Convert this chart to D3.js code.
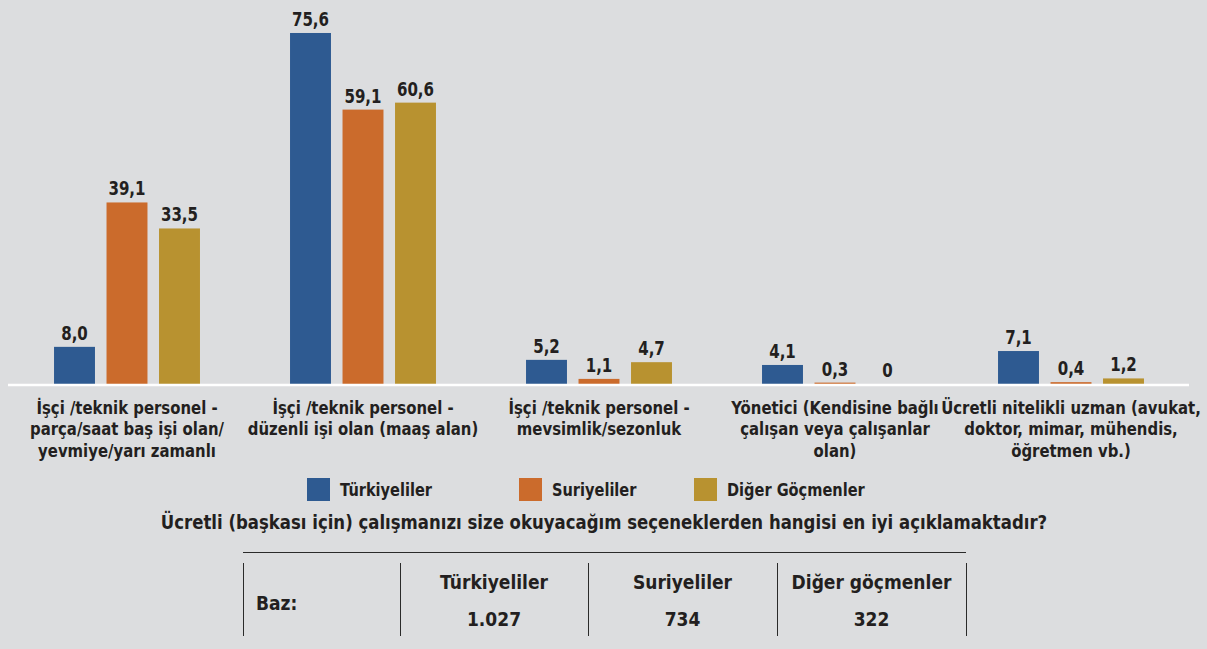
<!DOCTYPE html>
<html>
<head>
<meta charset="utf-8">
<script src="https://cdn.jsdelivr.net/npm/d3@7"></script>
<style>
  body { margin: 0; background: #dcdddf; }
  text { font-family: 'Liberation Sans Narrow', 'DejaVu Sans Condensed', sans-serif; font-weight: bold; fill: #231f20; }
</style>
</head>
<body>
<div id="chart"></div>
<script>
var categories = [
  ['İşçi /teknik personel -', 'parça/saat baş işi olan/', 'yevmiye/yarı zamanlı'],
  ['İşçi /teknik personel -', 'düzenli işi olan (maaş alan)'],
  ['İşçi /teknik personel -', 'mevsimlik/sezonluk'],
  ['Yönetici (Kendisine bağlı', 'çalışan veya çalışanlar', 'olan)'],
  ['Ücretli nitelikli uzman (avukat,', 'doktor, mimar, mühendis,', 'öğretmen vb.)']
]
var series = ['Türkiyeliler', 'Suriyeliler', 'Diğer Göçmenler']
var turkiyeliler = [8.0, 75.6, 5.2, 4.1, 7.1]
var suriyeliler = [39.1, 59.1, 1.1, 0.3, 0.4]
var digerGocmenler = [33.5, 60.6, 4.7, 0, 1.2]
var question = 'Ücretli (başkası için) çalışmanızı size okuyacağım seçeneklerden hangisi en iyi açıklamaktadır?'
var baseLabel = 'Baz:'
var baseGroups = ['Türkiyeliler', 'Suriyeliler', 'Diğer göçmenler']
var baseCounts = ['1.027', '734', '322']

var colors = ['#2e5a91', '#cb6b2c', '#b89230']
var values = [turkiyeliler, suriyeliler, digerGocmenler]

var width = 1207
var height = 649

var svg = d3
  .select('#chart')
  .append('svg')
  .attr('width', width)
  .attr('height', height)

// squeeze text horizontally to mimic the condensed face
function narrow(sel, x, sx) {
  sel.attr('transform', 'scale(' + sx + ',1)').attr('x', function(d, i) {
    return (typeof x === 'function' ? x(d, i) : x) / sx
  })
}

var xGroup = d3.scaleBand().domain(d3.range(categories.length)).range([9, 1189])
var xBar = d3
  .scaleBand()
  .domain(d3.range(series.length))
  .range([-78.75, 78.75])
  .paddingInner(0.22)
  .paddingOuter(0.11)
var y = d3.scaleLinear().domain([0, 80]).range([384, 384 - 80 * 4.643])

var fmt = function(v) {
  return v === 0 ? '0' : d3.format('.1f')(v).replace('.', ',')
}

var groups = svg
  .selectAll('.group')
  .data(categories)
  .enter()
  .append('g')
  .attr('class', 'group')
  .attr('transform', function(d, i) {
    return 'translate(' + (xGroup(i) + xGroup.bandwidth() / 2) + ',0)'
  })

series.forEach(function(s, si) {
  groups
    .append('rect')
    .attr('x', xBar(si))
    .attr('width', xBar.bandwidth())
    .attr('y', function(d, i) {
      return y(values[si][i])
    })
    .attr('height', function(d, i) {
      return y(0) - y(values[si][i])
    })
    .attr('fill', colors[si])

  groups
    .append('text')
    .call(narrow, xBar(si) + xBar.bandwidth() / 2, 0.88)
    .attr('y', function(d, i) {
      return y(values[si][i]) - 7
    })
    .attr('text-anchor', 'middle')
    .attr('font-size', 19)
    .text(function(d, i) {
      return fmt(values[si][i])
    })
})

// baseline
svg
  .append('line')
  .attr('x1', 8)
  .attr('x2', 1189)
  .attr('y1', y(0) + 1)
  .attr('y2', y(0) + 1)
  .attr('stroke', '#ffffff')
  .attr('stroke-width', 2.5)

// category labels
groups
  .append('text')
  .attr('text-anchor', 'middle')
  .attr('font-size', 18)
  .attr('transform', 'scale(0.92,1)')
  .selectAll('tspan')
  .data(function(d) {
    return d
  })
  .enter()
  .append('tspan')
  .attr('x', 0)
  .attr('y', function(d, i) {
    return 414 + i * 21.5
  })
  .text(function(d) {
    return d
  })

// legend
var legendX = [307, 519, 694]
var legend = svg
  .selectAll('.legend')
  .data(series)
  .enter()
  .append('g')
  .attr('class', 'legend')
  .attr('transform', function(d, i) {
    return 'translate(' + legendX[i] + ',478)'
  })
legend
  .append('rect')
  .attr('width', 23)
  .attr('height', 23)
  .attr('fill', function(d, i) {
    return colors[i]
  })
legend
  .append('text')
  .call(narrow, 33, 0.9)
  .attr('y', 18)
  .attr('font-size', 18)
  .text(function(d) {
    return d
  })

// question
svg
  .append('text')
  .call(narrow, 604, 0.92)
  .attr('y', 529)
  .attr('text-anchor', 'middle')
  .attr('font-size', 20)
  .text(question)

// base table
var colX = [243, 400, 588, 777, 966]
svg
  .append('line')
  .attr('x1', colX[0])
  .attr('x2', colX[4])
  .attr('y1', 552.5)
  .attr('y2', 552.5)
  .attr('stroke', '#2a2a2a')
  .attr('stroke-width', 1)

svg
  .selectAll('.vline')
  .data(colX)
  .enter()
  .append('line')
  .attr('class', 'vline')
  .attr('x1', function(d) { return d + 0.5 })
  .attr('x2', function(d) { return d + 0.5 })
  .attr('y1', 563)
  .attr('y2', 636)
  .attr('stroke', '#2a2a2a')
  .attr('stroke-width', 1)

svg
  .append('text')
  .attr('x', 256)
  .attr('y', 610)
  .attr('font-size', 19)
  .text(baseLabel)

baseGroups.forEach(function(g, i) {
  var cx = (colX[i + 1] + colX[i + 2]) / 2
  svg
    .append('text')
    .attr('x', cx)
    .attr('y', 589)
    .attr('text-anchor', 'middle')
    .attr('font-size', 19)
    .text(g)
  svg
    .append('text')
    .attr('x', cx)
    .attr('y', 626)
    .attr('text-anchor', 'middle')
    .attr('font-size', 19)
    .text(baseCounts[i])
})
</script>
</body>
</html>
